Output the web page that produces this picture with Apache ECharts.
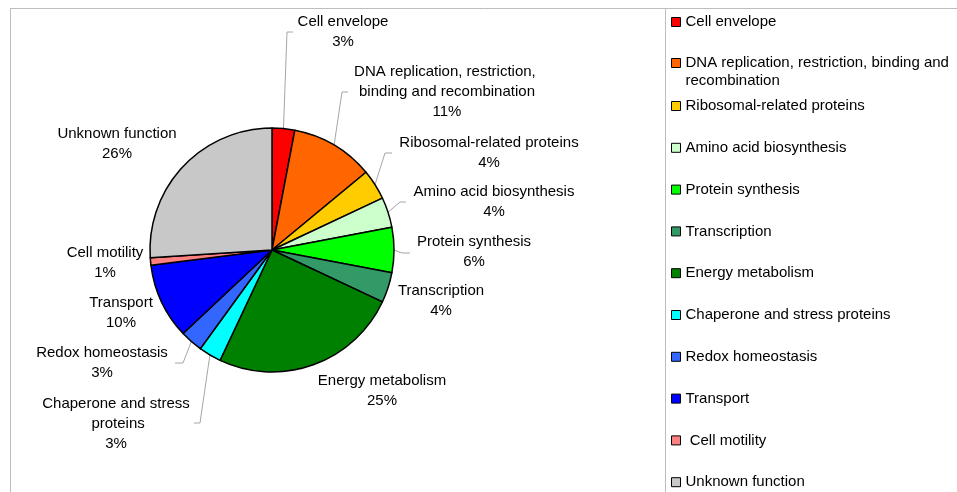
<!DOCTYPE html>
<html>
<head>
<meta charset="utf-8">
<script src="https://cdn.jsdelivr.net/npm/echarts@6/dist/echarts.min.js"></script>
<style>html,body{margin:0;padding:0;background:#fff;}#c{width:957px;height:492px;}</style>
</head>
<body>
<div id="c"></div>
<script>
var categories = ['Cell envelope', 'DNA replication, restriction, binding and recombination', 'Ribosomal-related proteins', 'Amino acid biosynthesis', 'Protein synthesis', 'Transcription', 'Energy metabolism', 'Chaperone and stress proteins', 'Redox homeostasis', 'Transport', ' Cell motility', 'Unknown function'];
var values = [3, 11, 4, 4, 6, 4, 25, 3, 3, 10, 1, 26];
var colors = ['#FF0000', '#FF6600', '#FFCC00', '#CCFFCC', '#00FF00', '#339966', '#008000', '#00FFFF', '#3366FF', '#0000FF', '#FF8080', '#C8C8C8'];

// label layout (centre of each label block), wrap widths, leader-line elbow/end
var labelPos = [[343, 32], [447, 92], [489, 153], [494, 202], [474, 252], [441, 301], [382, 391], [116, 424], [102, 363], [121, 313], [105, 263], [117, 144]];
var labelWrap = [300, 195, 300, 300, 300, 300, 300, 150, 300, 300, 300, 300];
var leader = [[[287, 32], [293, 32]], [[342, 92], [348, 92]], [[385, 153], [392, 153]], [[400, 202], [406, 202]], [[402, 253], [410, 253]], null, null, [[200, 423], [194, 423]], [[183, 363], [175, 363]], null, null, null];

var FONT = '"Liberation Sans", Arial, sans-serif';
var chart = echarts.init(document.getElementById('c'), null, {renderer: 'canvas'});
var total = values.reduce(function (a, b) { return a + b; }, 0);

var data = categories.map(function (n, i) {
  return {
    name: n,
    value: values[i],
    itemStyle: {color: colors[i]},
    label: {width: labelWrap[i], overflow: 'break'},
    labelLine: {show: !!leader[i]}
  };
});

function legendBlock(names, top, formatter) {
  return {
    orient: 'vertical',
    left: 666,
    top: top,
    height: 700,
    itemWidth: 9,
    itemHeight: 9,
    itemGap: 23.8,
    icon: 'rect',
    selectedMode: false,
    data: names,
    formatter: formatter,
    textStyle: {fontFamily: FONT, fontSize: 15, color: '#000', width: 268, overflow: 'break', lineHeight: 18},
    itemStyle: {borderColor: '#000', borderWidth: 1}
  };
}

chart.setOption({
  animation: false,
  backgroundColor: '#fff',
  graphic: [
    {type: 'line', shape: {x1: 10, y1: 8.5, x2: 957, y2: 8.5}, style: {stroke: '#BDBDBD', lineWidth: 1}, silent: true},
    {type: 'line', shape: {x1: 10.5, y1: 8, x2: 10.5, y2: 492}, style: {stroke: '#BDBDBD', lineWidth: 1}, silent: true},
    {type: 'line', shape: {x1: 665.5, y1: 8, x2: 665.5, y2: 492}, style: {stroke: '#BDBDBD', lineWidth: 1}, silent: true}
  ],
  legend: [
    legendBlock(categories.slice(0, 1), 8),
    legendBlock(categories.slice(1, 2), 31, function (n) { return '\n' + n; }),
    legendBlock(categories.slice(2), 92)
  ],
  series: [{
    type: 'pie',
    center: [272, 250],
    radius: [0, 122],
    startAngle: 90,
    clockwise: true,
    data: data,
    itemStyle: {borderColor: '#000', borderWidth: 1.5},
    emphasis: {disabled: true},
    label: {
      show: true,
      fontFamily: FONT,
      fontSize: 15,
      color: '#000',
      lineHeight: 20,
      align: 'center',
      formatter: function (p) {
        return p.name.trim() + '\n' + Math.round(p.value / total * 100) + '%';
      }
    },
    labelLine: {lineStyle: {color: '#A6A6A6', width: 1}, length: 10, length2: 6},
    labelLayout: function (p) {
      var i = p.dataIndex;
      var pos = labelPos[i];
      var out = {x: pos[0], y: pos[1], align: 'center', verticalAlign: 'middle'};
      if (leader[i] && p.labelLinePoints) {
        out.labelLinePoints = [p.labelLinePoints[0], leader[i][0], leader[i][1]];
      }
      return out;
    }
  }]
});
</script>
</body>
</html>
